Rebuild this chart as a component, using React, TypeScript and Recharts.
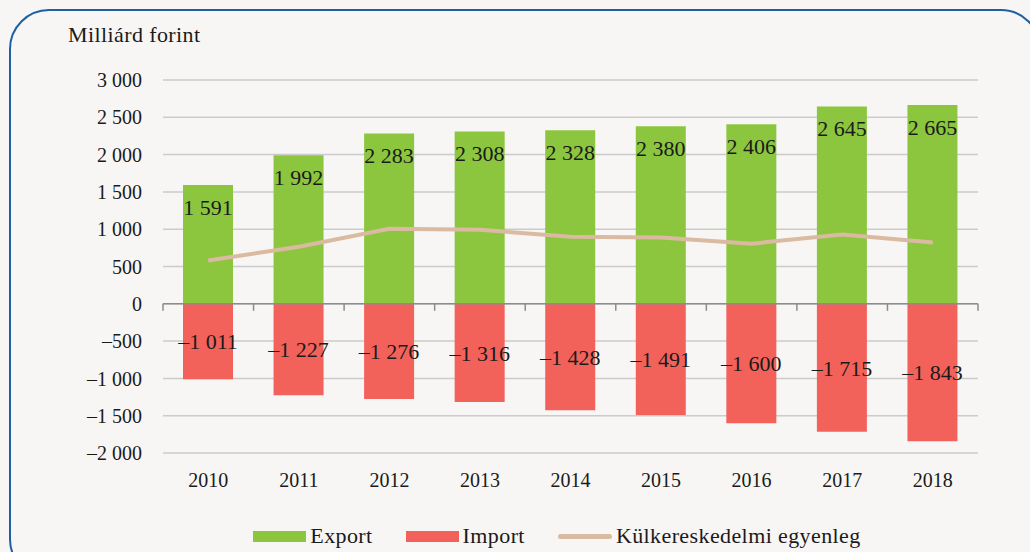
import { ComposedChart, Bar, Line, XAxis, YAxis, CartesianGrid, ReferenceLine, LabelList, Legend } from "recharts";

const years = ["2010", "2011", "2012", "2013", "2014", "2015", "2016", "2017", "2018"];
const exportValues = [1591, 1992, 2283, 2308, 2328, 2380, 2406, 2645, 2665];
const importValues = [-1011, -1227, -1276, -1316, -1428, -1491, -1600, -1715, -1843];
const balanceValues = [580, 765, 1007, 992, 900, 889, 806, 930, 822];
const yTicks = [-2000, -1500, -1000, -500, 0, 500, 1000, 1500, 2000, 2500, 3000];

const data = years.map((year, i) => ({
  year,
  export: exportValues[i],
  import: importValues[i],
  balance: balanceValues[i],
}));

const FONT = "'Liberation Serif', 'DejaVu Serif', serif";
const GREEN = "#8cc63f";
const RED = "#f3625a";
const TAN = "#dbbaa2";

// magyar formátum: szóköz ezres tagolás, nagykötőjel mínuszjel
const fmt = (v: number) => {
  const s = Math.abs(v).toString().replace(/\B(?=(\d{3})+(?!\d))/g, " ");
  return v < 0 ? "\u2013" + s : s;
};

const ZeroAxis = (props: any) => {
  const { x1, y1, x2, y2 } = props;
  const n = years.length;
  const step = (x2 - x1) / n;
  return (
    <g>
      <line x1={x1} y1={y1} x2={x2} y2={y2} stroke="#8c8c8c" strokeWidth={1.5} />
      {Array.from({ length: n + 1 }, (_, i) => (
        <line key={i} x1={x1 + i * step} y1={y1} x2={x1 + i * step} y2={y1 + 7} stroke="#8c8c8c" strokeWidth={1.5} />
      ))}
    </g>
  );
};

const LegendContent = () => (
  <div style={{ display: "flex", justifyContent: "center", alignItems: "center", fontFamily: FONT, fontSize: 22, letterSpacing: 0.4, color: "#1a1a1a" }}>
    <div style={{ display: "flex", alignItems: "center", marginRight: 33 }}>
      <span style={{ width: 53, height: 11, background: GREEN, marginRight: 4 }} />
      Export
    </div>
    <div style={{ display: "flex", alignItems: "center", marginRight: 33 }}>
      <span style={{ width: 53, height: 11, background: RED, marginRight: 4 }} />
      Import
    </div>
    <div style={{ display: "flex", alignItems: "center" }}>
      <span style={{ width: 54, height: 5, borderRadius: 3, background: TAN, marginRight: 4 }} />
      Külkereskedelmi egyenleg
    </div>
  </div>
);

export default function App() {
  return (
    <div style={{ position: "fixed", left: 0, top: 0, width: 1030, height: 552, background: "#f7f6f4", overflow: "hidden" }}>
      <div
        style={{
          position: "absolute",
          left: 9,
          top: 9,
          width: 1032,
          height: 570,
          boxSizing: "border-box",
          border: "2px solid #1f5fa3",
          borderRadius: 40,
        }}
      />
      <div style={{ position: "absolute", left: 68, top: 22, fontFamily: FONT, fontSize: 22, letterSpacing: 0.4, color: "#1a1a1a" }}>
        Milliárd forint
      </div>
      <div style={{ position: "absolute", left: 0, top: 0 }}>
        <ComposedChart
          width={1030}
          height={552}
          data={data}
          stackOffset="sign"
          margin={{ top: 80, right: 52, bottom: 59, left: 0 }}
        >
          <CartesianGrid vertical={false} stroke="#cbcbcb" strokeWidth={1.5} />
          <XAxis
            dataKey="year"
            axisLine={false}
            tickLine={false}
            tickSize={0}
            tickMargin={20}
            height={40}
            interval={0}
            tick={{ fontFamily: FONT, fontSize: 20, fill: "#1a1a1a" }}
          />
          <YAxis
            domain={[-2000, 3000]}
            ticks={yTicks}
            width={163}
            axisLine={false}
            tickLine={false}
            tickSize={0}
            tickMargin={21}
            interval={0}
            tickFormatter={fmt}
            tick={{ fontFamily: FONT, fontSize: 20, fill: "#1a1a1a" }}
          />
          <Bar dataKey="export" stackId="a" fill={GREEN} barSize={50} isAnimationActive={false}>
            <LabelList dataKey="export" position="insideTop" offset={14} formatter={(v: any) => fmt(Number(v))} style={{ fontFamily: FONT, fontSize: 22, fill: "#1a1a1a" }} />
          </Bar>
          <Bar dataKey="import" stackId="a" fill={RED} barSize={50} isAnimationActive={false}>
            <LabelList dataKey="import" position="center" formatter={(v: any) => fmt(Number(v))} style={{ fontFamily: FONT, fontSize: 22, fill: "#1a1a1a" }} />
          </Bar>
          <Line dataKey="balance" type="linear" stroke={TAN} strokeWidth={4} dot={false} isAnimationActive={false} />
          <ReferenceLine y={0} shape={ZeroAxis} />
          <Legend
            verticalAlign="middle"
            align="center"
            content={LegendContent}
            wrapperStyle={{ top: 523, left: 42, width: 1030 }}
          />
        </ComposedChart>
      </div>
    </div>
  );
}
